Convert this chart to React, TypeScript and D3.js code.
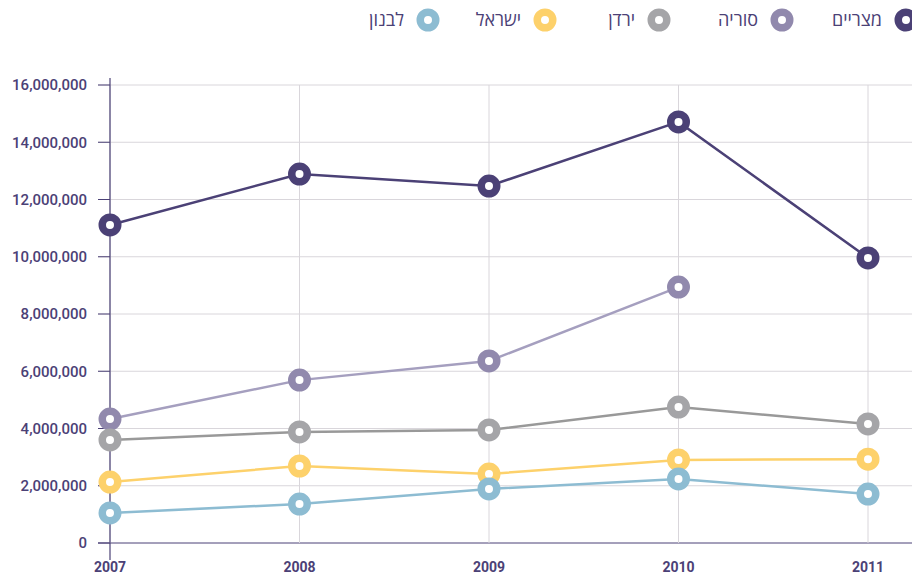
import React from "react";
import * as d3 from "d3";

const years = [2007, 2008, 2009, 2010, 2011];
const seriesNames = ["מצריים", "סוריה", "ירדן", "ישראל", "לבנון"];
const egypt = [11110000, 12890000, 12470000, 14710000, 9960000];
const syria: (number | null)[] = [4330000, 5690000, 6360000, 8940000, null];
const jordan = [3600000, 3880000, 3950000, 4750000, 4160000];
const israel = [2130000, 2690000, 2410000, 2900000, 2930000];
const lebanon = [1050000, 1360000, 1890000, 2240000, 1710000];
const yTicks = [0, 2000000, 4000000, 6000000, 8000000, 10000000, 12000000, 14000000, 16000000];
const markerColors = ["#4b4176", "#9189ad", "#a5a5a8", "#fdd16b", "#8dbcd2"];
const lineColors = ["#4b4176", "#a59fbf", "#999999", "#fdd16b", "#8dbcd2"];

const allSeries = [egypt, syria, jordan, israel, lebanon];

export default function App() {
  const W = 912, H = 577;
  const x = d3.scalePoint<number>().domain(years).range([110, 868]);
  const y = d3.scaleLinear().domain([0, 16000000]).range([543, 85]);
  const fmt = d3.format(",");
  const line = d3
    .line<number | null>()
    .defined((d) => d != null)
    .x((_, i) => x(years[i])!)
    .y((d) => y(d as number));
  const textColor = "#4b4176";
  const font = "Roboto, 'Open Sans', sans-serif";
  const legendX = [906, 782, 659, 545, 428];

  return (
    <svg width={W} height={H} style={{ position: "absolute", left: 0, top: 0 }} fontFamily={font}>
      {yTicks.map((t) => (
        <line key={"gy" + t} x1={98} x2={W} y1={y(t)} y2={y(t)} stroke={t === 0 ? "#4b4176" : "#d9d6db"} strokeWidth={1} />
      ))}
      {years.map((yr) => (
        <line key={"gx" + yr} x1={x(yr)} x2={x(yr)} y1={85} y2={543} stroke="#d9d6db" strokeWidth={1} />
      ))}
      {yTicks.map((t) => (
        <line key={"tk" + t} x1={98} x2={110} y1={y(t)} y2={y(t)} stroke="#4b4176" strokeWidth={1} />
      ))}
      <line x1={110} x2={110} y1={78} y2={560} stroke="#4b4176" strokeWidth={1.2} />
      {yTicks.map((t) => (
        <text key={"yl" + t} x={87} y={y(t)} dy="0.35em" textAnchor="end" fontSize={15} fontWeight={500} fill={textColor}>
          {fmt(t)}
        </text>
      ))}
      {years.map((yr) => (
        <text key={"xl" + yr} x={x(yr)} y={572} textAnchor="middle" fontSize={14} fontWeight={700} fill={textColor}>
          {yr}
        </text>
      ))}
      {allSeries.map((s, si) => (
        <path key={"l" + si} d={line(s as (number | null)[]) || ""} fill="none" stroke={lineColors[si]} strokeWidth={2.5} />
      ))}
      {allSeries.map((s, si) =>
        (s as (number | null)[]).map((v, i) =>
          v == null ? null : (
            <circle key={"c" + si + "-" + i} cx={x(years[i])} cy={y(v)} r={7.75} fill="#fff" stroke={markerColors[si]} strokeWidth={7.5} />
          )
        )
      )}
      {seriesNames.map((n, i) => (
        <g key={"lg" + i}>
          <circle cx={legendX[i]} cy={20} r={7.75} fill="#fff" stroke={markerColors[i]} strokeWidth={7.5} />
          <text x={legendX[i] - 24} y={20} dy="0.35em" textAnchor="end" fontSize={18} fill={textColor}>
            {n}
          </text>
        </g>
      ))}
    </svg>
  );
}
